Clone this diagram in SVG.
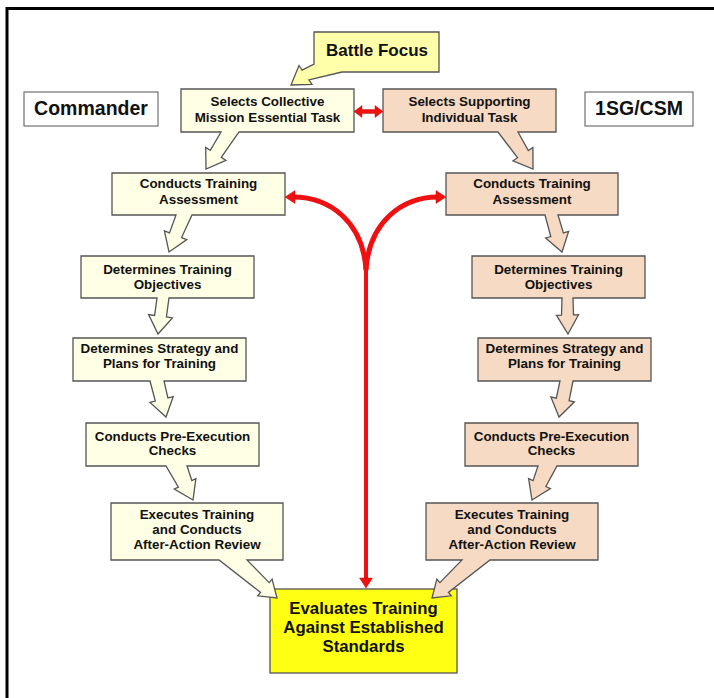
<svg xmlns="http://www.w3.org/2000/svg" width="714" height="698" viewBox="0 0 714 698">
<style>
.cmd{fill:#FFFFE5;stroke:#555;stroke-width:1.3;stroke-linejoin:miter}
.sg{fill:#F6DAC3;stroke:#555;stroke-width:1.3;stroke-linejoin:miter}
.bf{fill:#FFFFAA;stroke:#555;stroke-width:1.3}
.ev{fill:#FFFF14;stroke:#555;stroke-width:1.3}
.lbl{fill:#fff;stroke:#555;stroke-width:1}
text{font-family:"Liberation Sans",Arial,sans-serif;font-weight:bold;fill:#111;text-anchor:middle}
.t{font-size:13.4px}
.big{font-size:17px}
.hd{font-size:19.5px}
.red{fill:#EE1111;stroke:#B30000;stroke-width:0.4}
.rl{fill:none;stroke:#EE1111}
</style>
<rect x="7" y="8.5" width="720" height="700" fill="#fff" stroke="#000" stroke-width="3"/>

<g id="commander">
<rect class="lbl" x="24" y="92" width="134" height="34"/>
<text class="hd" x="91" y="115">Commander</text>
</g>
<g id="sgcsm">
<rect class="lbl" x="585" y="92" width="108" height="34"/>
<text class="hd" x="639" y="115">1SG/CSM</text>
</g>

<g id="battle-focus">
<path class="bf" d="M314,32 H439 V72 H342 L308.9,79.9 L312,84.5 L291,85 L299,65.5 L302.1,70.1 L314,64 Z"/>
<text class="big" x="377" y="56">Battle Focus</text>
</g>

<g id="evaluate">
<rect class="ev" x="270" y="589" width="187" height="84"/>
<text style="font-size:16.8px" x="363.5" y="614">Evaluates Training</text>
<text style="font-size:16.8px" x="363.5" y="633">Against Established</text>
<text style="font-size:16.8px" x="363.5" y="652">Standards</text>
</g>

<g id="cmd-select">
<path class="cmd" d="M181,89 H354 V132 H239 L221.3,157.4 L225.9,160.4 L206,169 L205.7,147.4 L210.3,150.4 L221,132 H181 Z"/>
<text class="t" x="267.5" y="106">Selects Collective</text>
<text class="t" x="267.5" y="121.7">Mission Essential Task</text>
</g>
<g id="sg-select">
<path class="sg" d="M383,89 H556 V132 H518 L528.3,150.5 L532.9,147.4 L533,169 L513,160.8 L517.5,157.7 L498,132 H383 Z"/>
<text class="t" x="469.5" y="106">Selects Supporting</text>
<text class="t" x="469.5" y="121.7">Individual Task</text>
</g>

<g id="cmd-assess">
<path class="cmd" d="M112,173 H285 V215 H192 L181.6,237.6 L186.8,239.6 L169,252 L164.4,230.8 L169.5,232.9 L176,215 H112 Z"/>
<text class="t" x="198.5" y="188.3">Conducts Training</text>
<text class="t" x="198.5" y="204">Assessment</text>
</g>
<g id="sg-assess">
<path class="sg" d="M446,173 H618 V215 H558 L563.4,232.9 L568.6,231.4 L562,252 L545.6,238 L550.8,236.5 L545,215 H446 Z"/>
<text class="t" x="532" y="188.3">Conducts Training</text>
<text class="t" x="532" y="204">Assessment</text>
</g>

<g id="cmd-objectives">
<path class="cmd" d="M81,256 H254 V298 H169 L166.4,317 L172.4,317.9 L158,334 L148.6,314.6 L154.6,315.4 L157,298 H81 Z"/>
<text class="t" x="167.5" y="274">Determines Training</text>
<text class="t" x="167.5" y="288.7">Objectives</text>
</g>
<g id="sg-objectives">
<path class="sg" d="M472,256 H645 V298 H573 L573.5,314.8 L578.5,314.7 L568,334 L556.5,315.3 L561.5,315.2 L562,298 H472 Z"/>
<text class="t" x="558.5" y="274">Determines Training</text>
<text class="t" x="558.5" y="288.7">Objectives</text>
</g>

<g id="cmd-strategy">
<path class="cmd" d="M73,338 H246 V381 H164 L167.9,397.9 L173.2,396.6 L166,417 L150,402.4 L155.3,401.1 L150,381 H73 Z"/>
<text class="t" x="159.5" y="353.3">Determines Strategy and</text>
<text class="t" x="159.5" y="368.3">Plans for Training</text>
</g>
<g id="sg-strategy">
<path class="sg" d="M478,338 H651 V381 H573 L569.1,400.7 L574.4,401.8 L559,417 L550.9,396.9 L556.3,398.1 L560,381 H478 Z"/>
<text class="t" x="564.5" y="353.3">Determines Strategy and</text>
<text class="t" x="564.5" y="368.3">Plans for Training</text>
</g>

<g id="cmd-checks">
<path class="cmd" d="M86,423 H259 V466 H187 L191.8,480.5 L195.9,478.6 L193,500 L174.3,489 L178.4,487.1 L166,466 H86 Z"/>
<text class="t" x="172.5" y="440.7">Conducts Pre-Execution</text>
<text class="t" x="172.5" y="455.3">Checks</text>
</g>
<g id="sg-checks">
<path class="sg" d="M465,423 H638 V466 H557 L545.9,486.5 L550.4,488.6 L532,500 L528.6,478.6 L533.1,480.7 L538,466 H465 Z"/>
<text class="t" x="551.5" y="440.7">Conducts Pre-Execution</text>
<text class="t" x="551.5" y="455.3">Checks</text>
</g>

<g id="cmd-execute">
<path class="cmd" d="M111,503 H283 V560 H247 L269.2,582.6 L272.1,579.2 L277,598 L257.7,595.8 L260.6,592.4 L219,560 H111 Z"/>
<text class="t" x="197" y="519">Executes Training</text>
<text class="t" x="197" y="534">and Conducts</text>
<text class="t" x="197" y="549.3">After-Action Review</text>
</g>
<g id="sg-execute">
<path class="sg" d="M426,503 H598 V560 H490 L448.4,592.4 L451.3,595.8 L432,598 L436.9,579.2 L439.9,582.6 L462,560 H426 Z"/>
<text class="t" x="512" y="519">Executes Training</text>
<text class="t" x="512" y="534">and Conducts</text>
<text class="t" x="512" y="549.3">After-Action Review</text>
</g>

<g id="connectors">
<path class="red" d="M354,111.5 L362,105.5 L362,109.5 L375,109.5 L375,105.5 L383,111.5 L375,117.5 L375,113.5 L362,113.5 L362,117.5 Z"/>
<path class="rl" stroke-width="5" d="M293,197 C330,197 363,222 366,270"/>
<path class="rl" stroke-width="5" d="M438,197 C402,197 369,222 366,270"/>
<path class="rl" stroke-width="4" d="M366,262 V580"/>
<polygon class="red" points="285,197 295,190.5 295,203.5"/>
<polygon class="red" points="446,197 436,190.5 436,203.5"/>
<polygon class="red" points="366,588 359.5,578 372.5,578"/>
</g>
</svg>
